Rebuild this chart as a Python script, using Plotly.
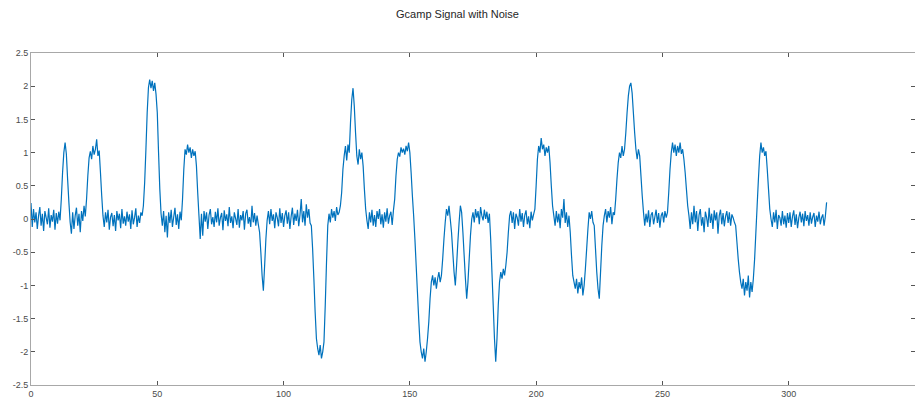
import numpy as np
import plotly.graph_objects as go

# Sample spacing of the recorded trace (time units)
sample_step = 0.5

# Start time of each block of samples below
block_starts = [0, 50, 100, 150, 200, 250, 300]

# Gcamp fluorescence samples (dF/F with noise), one list per block of time
signal_000_050 = [
    0.24, -0.12, 0.15, -0.05, 0.1, -0.15, 0.05, 0.18, -0.1, 0.08,
    -0.18, 0.12, 0.02, -0.08, 0.16, -0.13, 0.06, -0.04, 0.14, -0.16,
    0.09, -0.07, 0.11, -0.02,
    0.3, 0.7, 1.0, 1.15, 0.98, 0.6, 0.25, -0.05,
    -0.22, 0.1, -0.15, 0.05, 0.17, -0.1, 0.08, -0.2, 0.12, -0.03, 0.2, 0.04,
    0.3, 0.65, 0.92, 1.02, 0.9, 1.1, 0.97, 1.05, 1.2, 0.95, 1.03, 0.7, 0.35, 0.05,
    -0.12, 0.1, -0.05, 0.14, -0.16, 0.03, 0.09, -0.11, 0.06, -0.18,
    0.12, -0.02, 0.08, -0.14, 0.15, -0.07, 0.04, -0.1, 0.11, -0.04,
    0.07, -0.15, 0.13, -0.08, 0.02, 0.16, -0.12, 0.05, -0.06, 0.1,
    0.05, 0.2, 0.55, 1.05, 1.6, 1.98, 2.1, 1.97, 2.08, 1.93, 2.05, 1.88,
]

signal_050_100 = [
    1.6, 1.0, 0.45, 0.08,
    -0.1, 0.12, -0.2, 0.05, -0.28, 0.1, -0.06, 0.14, -0.12, 0.03, 0.17, -0.09,
    0.07, -0.15, 0.11, -0.02,
    0.3, 0.75, 1.05, 0.97, 1.12, 1.0, 1.08, 0.92, 1.05, 0.95, 1.02, 0.8, 0.4, 0.05,
    -0.3,
    0.08, -0.25, 0.12, -0.04, 0.1, -0.15, 0.06, 0.15, -0.08, 0.03,
    -0.12, 0.11, -0.05, 0.16, -0.1, 0.02, 0.09, -0.17, 0.13, -0.03,
    0.07, -0.11, 0.18, -0.06, 0.04, -0.14, 0.1, 0.01, -0.09, 0.15,
    -0.13, 0.06, -0.02, 0.12, -0.16, 0.08, 0.14, -0.07, 0.03, -0.12,
    0.2, -0.05, 0.09, -0.1, 0.05, -0.08,
    -0.2, -0.5, -0.85, -1.08, -0.7, -0.3, -0.02,
    0.12, -0.08, 0.15, -0.03, 0.07, -0.14, 0.1, 0.02, -0.11, 0.16, -0.06, 0.09,
]

signal_100_150 = [
    -0.12, 0.05, 0.13, -0.07, 0.1, -0.15, 0.04, 0.17, -0.09, 0.08,
    -0.03, 0.14, -0.11, 0.06, 0.3, -0.05, 0.12, -0.1, 0.22, 0.02,
    0.15, -0.06,
    -0.1, -0.45, -0.9, -1.4, -1.8, -1.95, -2.05, -1.9, -2.1, -2.0, -1.85, -1.3, -0.65, -0.1,
    0.08, -0.05, 0.15, 0.02, 0.12, -0.03, 0.18, 0.06, 0.1, 0.2,
    0.4, 0.75, 0.95, 1.1, 0.88, 1.12, 1.0, 1.45, 1.8, 1.97, 1.7, 1.3, 0.95, 0.82,
    1.05, 0.9, 1.0, 0.8, 0.45, 0.15, -0.02,
    -0.15, 0.1, -0.05, 0.14, -0.1, 0.06, -0.12, 0.12, 0.0, 0.15,
    -0.08, 0.07, -0.13, 0.1, -0.04, 0.16, -0.07, 0.05, 0.11, -0.09, 0.13,
    0.3, 0.65, 0.9, 1.0, 0.94, 1.08, 1.0, 1.06, 0.97, 1.1, 1.02, 1.15,
]

signal_150_200 = [
    1.0, 0.7, 0.35, 0.05, -0.3, -0.7, -1.1, -1.5, -1.85, -2.0,
    -2.1, -1.95, -2.15, -2.0, -1.8, -1.55, -1.2, -0.95, -0.85, -1.0,
    -0.88, -1.05, -0.9, -0.8, -0.95, -0.85, -0.6, -0.3, -0.05, 0.15,
    0.05, 0.2, 0.0, -0.2, -0.5, -0.8, -1.0, -0.7, -0.35, -0.05,
    0.2, 0.1, -0.2, -0.55, -0.9, -1.2, -0.95, -0.6, -0.25, 0.0,
    0.1, -0.05, 0.15, 0.02, 0.12, -0.08, 0.18, 0.05, -0.02, 0.14, 0.0, 0.11, -0.06, 0.08,
    -0.3, -0.8, -1.3, -1.8, -2.15, -1.8, -1.3, -0.95, -0.8, -0.9, -0.75, -0.85,
    -0.7, -0.5, -0.2, 0.05,
    0.12, -0.06, 0.1, -0.15, 0.08, 0.02, -0.1, 0.15, -0.04, 0.09,
    -0.12, 0.06, 0.13, -0.08, 0.04, -0.14, 0.11, -0.02, 0.07, 0.15,
]

signal_200_250 = [
    0.5, 0.9, 1.1, 1.0, 1.22, 1.05, 1.12, 0.95, 1.08, 1.0, 1.1, 0.85, 0.5, 0.2, 0.05,
    -0.1, 0.12, -0.05, 0.08, -0.14, 0.15, 0.02, 0.3, -0.06, 0.1, -0.12, 0.05,
    -0.2, -0.55, -0.85, -0.95, -1.05, -0.9, -1.12, -0.95, -1.05, -0.88, -1.15, -1.0,
    -0.75, -0.45, -0.15, 0.1, 0.0, 0.12, -0.05, -0.1, -0.45, -0.8, -1.05, -1.2,
    -0.8, -0.4, -0.1, 0.05,
    0.15, -0.05, 0.12, 0.02, 0.18, -0.08, 0.1, 0.06,
    0.3, 0.6, 0.85, 1.0, 0.92, 1.1, 0.95, 1.05, 1.3, 1.6, 1.85, 2.0, 2.05, 1.9,
    1.6, 1.3, 1.05, 0.9, 1.05, 0.95, 0.65, 0.35, 0.1,
    -0.1, 0.08, -0.05, 0.13, -0.12, 0.06, 0.1, -0.08, 0.03, 0.14, -0.06, 0.09, -0.13, 0.05,
]

signal_250_300 = [
    0.1, -0.05, 0.12, 0.02,
    0.1, 0.4, 0.75, 1.0, 1.15, 1.0, 1.12, 0.95, 1.1, 1.0, 1.15, 0.98, 1.05, 0.9,
    0.7, 0.45, 0.2, 0.05,
    -0.15, 0.1, -0.08, 0.2, -0.05, 0.12, -0.18, 0.06, 0.15, -0.1,
    0.03, -0.2, 0.11, 0.02, -0.12, 0.17, -0.06, 0.08, -0.15, 0.13,
    -0.02, 0.1, -0.22, 0.05, 0.14, -0.08, 0.09, -0.11, 0.04, 0.12,
    -0.06, 0.1, -0.1, 0.07, 0.02, -0.05,
    -0.1, -0.35, -0.6, -0.8, -0.95, -1.05, -0.9, -1.15, -0.95, -1.08, -0.85, -1.18,
    -0.95, -1.1, -0.9, -0.6, -0.2, 0.2, 0.6, 0.95, 1.15, 1.0, 1.08, 0.95, 1.02,
    0.75, 0.45, 0.15, 0.0,
    -0.12, 0.1, -0.05, 0.14, -0.15, 0.06, 0.02, -0.1, 0.12, -0.08, 0.05, -0.13, 0.09,
]

signal_300_315 = [
    -0.06, 0.1, -0.12, 0.04, 0.13, -0.09, 0.07, -0.14, 0.02, 0.11,
    -0.05, 0.08, -0.11, 0.12, -0.03, 0.06, -0.1, 0.1, -0.07, 0.03,
    0.09, -0.12, 0.05, -0.04, 0.11, -0.08, 0.02, 0.07, -0.1, 0.04,
    0.25,
]

signal_blocks = [signal_000_050, signal_050_100, signal_100_150, signal_150_200,
                 signal_200_250, signal_250_300, signal_300_315]

x_ticks = [0, 50, 100, 150, 200, 250, 300, 350]
y_ticks = [-2.5, -2, -1.5, -1, -0.5, 0, 0.5, 1, 1.5, 2, 2.5]
y_tick_text = ["-2.5", "-2", "-1.5", "-1", "-0.5", "0", "0.5", "1", "1.5", "2", "2.5"]

t_all, y_all = [], []
for start, block in zip(block_starts, signal_blocks):
    t_all.extend((start + sample_step * np.arange(len(block))).tolist())
    y_all.extend(block)

fig = go.Figure(
    go.Scatter(x=t_all, y=y_all, mode="lines",
               line=dict(color="#0072BD", width=1.2, simplify=False), hoverinfo="skip")
)

axis_common = dict(
    showgrid=False, zeroline=False, showline=True, linecolor="#a8a8a8", linewidth=1,
    mirror="ticks", ticks="inside", ticklen=4, tickcolor="#555555", tickwidth=1,
    tickfont=dict(family="Liberation Sans, Arial, sans-serif", size=9, color="#4a4a4a"),
)

fig.update_layout(
    width=915, height=400,
    margin=dict(l=31, r=0, t=53, b=15),
    paper_bgcolor="white", plot_bgcolor="white",
    showlegend=False,
    title=dict(text="Gcamp Signal with Noise", x=0.5, xanchor="center",
               y=1 - 14 / 400, yanchor="middle", yref="container",
               font=dict(family="Liberation Sans, Arial, sans-serif", size=11, color="#262626")),
    xaxis=dict(range=[0, 350], tickvals=x_ticks, **axis_common),
    yaxis=dict(range=[-2.5, 2.5], tickvals=y_ticks, ticktext=y_tick_text, **axis_common),
)

fig.write_html("out.html")
